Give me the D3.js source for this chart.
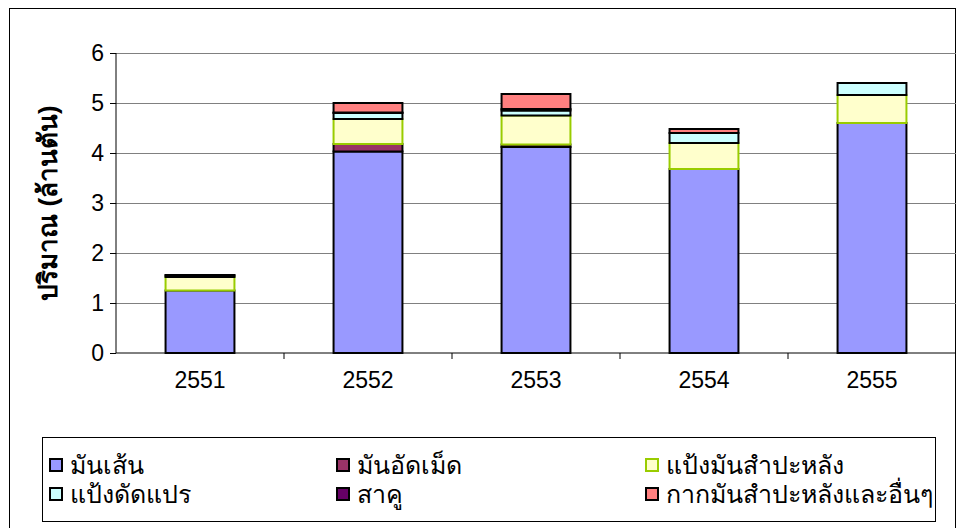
<!DOCTYPE html>
<html>
<head>
<meta charset="utf-8">
<script src="https://cdn.jsdelivr.net/npm/d3@7"></script>
<style>
  body { margin: 0; background: #fff; }
  svg { font-family: "Liberation Sans", Arial, "Noto Sans", sans-serif; }
</style>
</head>
<body>
<svg id="chart" width="959" height="528"></svg>
<script>
const years = ["2551", "2552", "2553", "2554", "2555"];
const seriesNames = ["มันเส้น", "มันอัดเม็ด", "แป้งมันสำปะหลัง", "แป้งดัดแปร", "สาคู", "กากมันสำปะหลังและอื่นๆ"];
const chips     = [1.25, 4.03, 4.12, 3.68, 4.60];
const pellets   = [0.00, 0.15, 0.05, 0.00, 0.00];
const starch    = [0.27, 0.50, 0.58, 0.52, 0.56];
const modified  = [0.03, 0.12, 0.10, 0.20, 0.24];
const sago      = [0.00, 0.01, 0.03, 0.00, 0.00];
const residue   = [0.01, 0.19, 0.30, 0.08, 0.00];
const yTicks = [0, 1, 2, 3, 4, 5, 6];

const fills   = ["#9999ff", "#993366", "#ffffcc", "#ccffff", "#660066", "#ff8080"];
const strokes = ["#000", "#000", "#99cc00", "#000", "#000", "#000"];

const all = [chips, pellets, starch, modified, sago, residue];
const table = years.map((y, i) => {
  const row = { year: y };
  seriesNames.forEach((s, k) => row[s] = all[k][i]);
  return row;
});

const svg = d3.select("#chart");
const margin = { top: 53, right: 3, bottom: 175, left: 116 };
const width = 959 - margin.left - margin.right;
const height = 528 - margin.top - margin.bottom;

// outer chart frame
svg.append("rect")
  .attr("x", 9.5).attr("y", 8.5)
  .attr("width", 946).attr("height", 530)
  .attr("fill", "none").attr("stroke", "#000");

const g = svg.append("g")
  .attr("transform", `translate(${margin.left}, ${margin.top})`);

const x = d3.scaleBand().domain(years).range([0, width]).paddingInner(0.59).paddingOuter(0.295);
const xb = d3.scaleBand().domain(years).range([0, width]);
const y = d3.scaleLinear().domain([0, 6]).range([height, 0]);

// gridlines
g.selectAll("line.grid")
  .data(yTicks.slice(1))
  .enter().append("line")
  .attr("x1", 0).attr("x2", width)
  .attr("y1", d => Math.round(y(d)) + 0.5).attr("y2", d => Math.round(y(d)) + 0.5)
  .attr("stroke", "#808080");

const stack = d3.stack().keys(seriesNames);
const layers = stack(table);

layers.forEach((layer, k) => {
  g.selectAll(null)
    .data(layer.filter(d => d[1] - d[0] > 0))
    .enter().append("rect")
    .attr("x", d => x(d.data.year))
    .attr("width", x.bandwidth())
    .attr("y", d => y(d[1]))
    .attr("height", d => y(d[0]) - y(d[1]))
    .attr("fill", fills[k])
    .attr("stroke", strokes[k])
    .attr("stroke-width", 2);
});

// y axis
const yAxis = g.append("g")
  .call(d3.axisLeft(y).tickValues(yTicks).tickSize(6).tickPadding(6).tickFormat(d3.format("d")));
yAxis.selectAll("text").attr("font-size", 23).attr("fill", "#000");
yAxis.selectAll("line, path").attr("stroke", "#000");
yAxis.select(".domain").attr("d", `M0,0V${height}`);

// x axis with ticks at category boundaries
const xAxis = g.append("g").attr("transform", `translate(0, ${height})`);
xAxis.append("line").attr("x1", 0).attr("x2", width).attr("stroke", "#000");
xAxis.selectAll("line.tk")
  .data(years.slice(1))
  .enter().append("line")
  .attr("x1", d => xb(d)).attr("x2", d => xb(d))
  .attr("y1", 0).attr("y2", 6).attr("stroke", "#000");
xAxis.selectAll("text")
  .data(years)
  .enter().append("text")
  .attr("x", d => xb(d) + xb.bandwidth() / 2)
  .attr("y", 35)
  .attr("text-anchor", "middle")
  .attr("font-size", 23)
  .text(d => d);

// y title
svg.append("text")
  .attr("transform", "translate(57, 203) rotate(-90)")
  .attr("text-anchor", "middle")
  .attr("font-size", 26)
  .attr("font-weight", "bold")
  .text("ปริมาณ (ล้านตัน)");

// legend
svg.append("rect")
  .attr("x", 42.5).attr("y", 437.5)
  .attr("width", 893).attr("height", 84)
  .attr("fill", "#fff").attr("stroke", "#000");

const legX = [50, 337, 646];
const legY = [465, 494];
seriesNames.forEach((s, k) => {
  const lx = legX[k % 3], ly = legY[Math.floor(k / 3)];
  svg.append("rect")
    .attr("x", lx).attr("y", ly - 6)
    .attr("width", 12).attr("height", 12)
    .attr("fill", fills[k]).attr("stroke", strokes[k]).attr("stroke-width", 2);
  svg.append("text")
    .attr("x", lx + 20).attr("y", ly)
    .attr("dy", "0.35em")
    .attr("font-size", 25)
    .text(s);
});
</script>
</body>
</html>
